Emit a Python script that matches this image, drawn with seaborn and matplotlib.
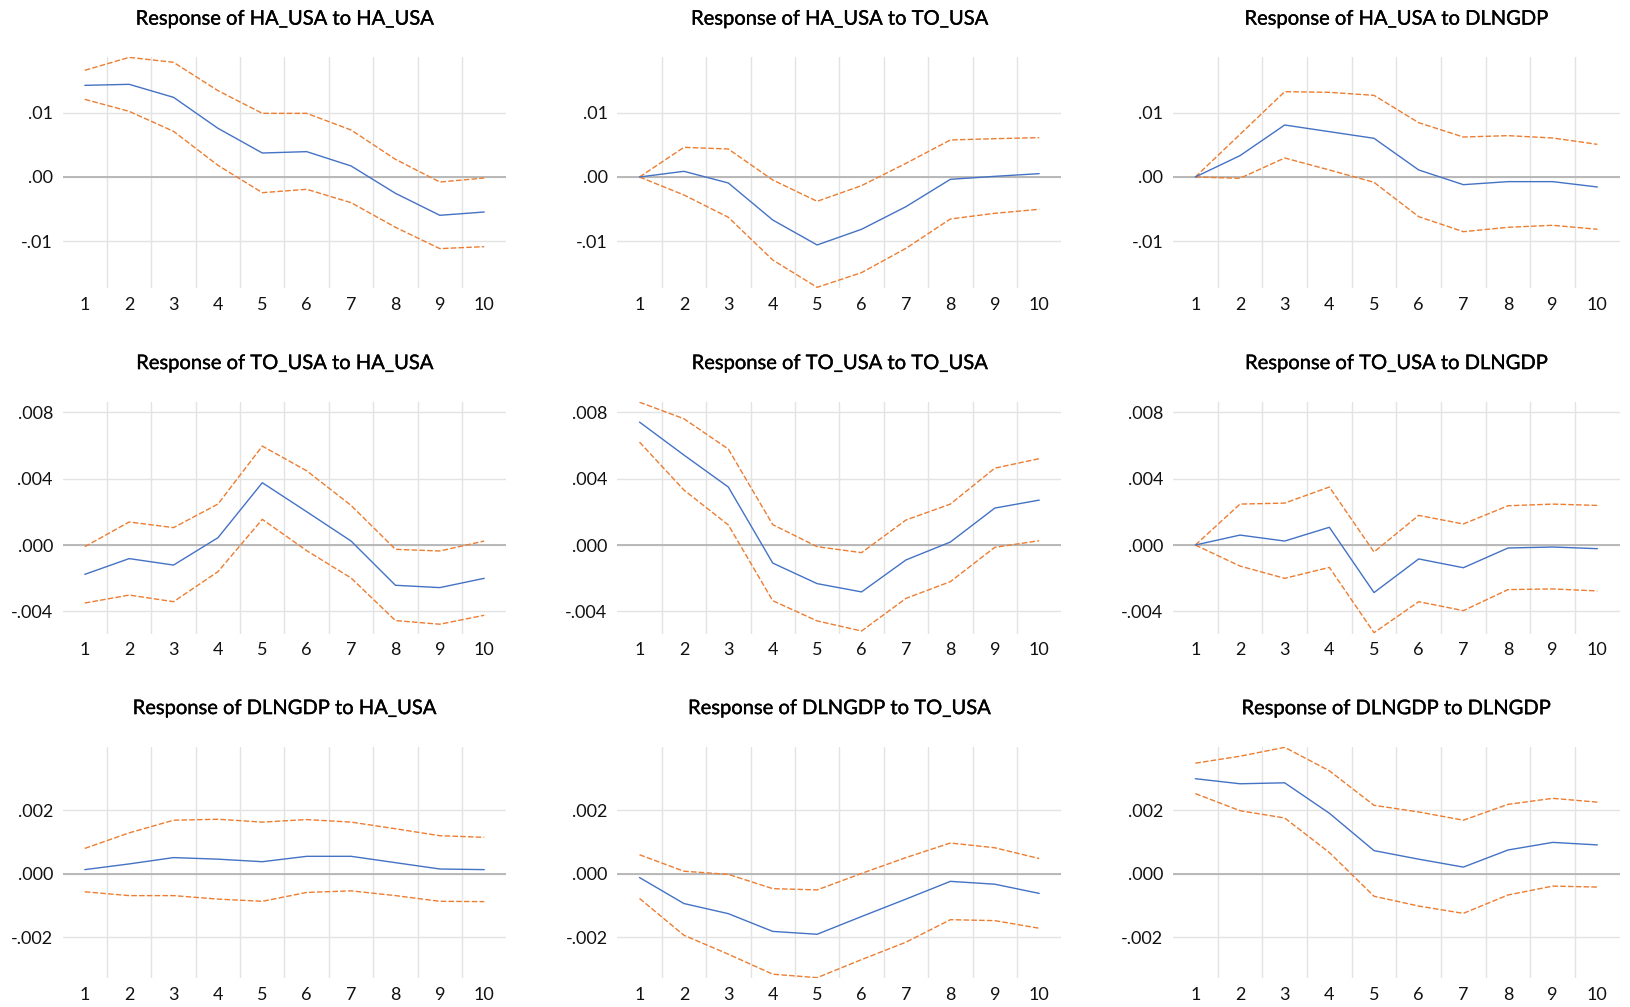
import numpy as np
import pandas as pd
import matplotlib
matplotlib.use("Agg")
import matplotlib.pyplot as plt
import matplotlib.patheffects as pe
import seaborn as sns

# ---------------- data ----------------
periods = [1, 2, 3, 4, 5, 6, 7, 8, 9, 10]

titles = [
    "Response of HA_USA to HA_USA", "Response of HA_USA to TO_USA", "Response of HA_USA to DLNGDP",
    "Response of TO_USA to HA_USA", "Response of TO_USA to TO_USA", "Response of TO_USA to DLNGDP",
    "Response of DLNGDP to HA_USA", "Response of DLNGDP to TO_USA", "Response of DLNGDP to DLNGDP",
]

# HA_USA responses
ha_ha_resp = [0.01421, 0.01437, 0.01235, 0.00755, 0.00372, 0.00393, 0.00171, -0.00253, -0.00594, -0.00543]
ha_ha_up = [0.01654, 0.01855, 0.01778, 0.01339, 0.00987, 0.00987, 0.00729, 0.00274, -0.00078, -0.00016]
ha_ha_lo = [0.01204, 0.01018, 0.00708, 0.00181, -0.00243, -0.00191, -0.00398, -0.00780, -0.01111, -0.01080]

ha_to_resp = [0.0, 0.00088, -0.00093, -0.00667, -0.01054, -0.00811, -0.00460, -0.00036, 0.00010, 0.00052]
ha_to_up = [0.0, 0.00460, 0.00434, -0.00047, -0.00377, -0.00134, 0.00212, 0.00574, 0.00594, 0.00610]
ha_to_lo = [0.0, -0.00279, -0.00625, -0.01287, -0.01711, -0.01483, -0.01106, -0.00651, -0.00563, -0.00501]

ha_gdp_resp = [0.0, 0.00331, 0.00806, 0.00703, 0.00600, 0.00109, -0.00119, -0.00072, -0.00072, -0.00155]
ha_gdp_up = [0.0, 0.00661, 0.01323, 0.01313, 0.01266, 0.00842, 0.00620, 0.00641, 0.00605, 0.00506]
ha_gdp_lo = [0.0, -0.00020, 0.00295, 0.00109, -0.00083, -0.00615, -0.00848, -0.00780, -0.00749, -0.00811]

# TO_USA responses
to_ha_resp = [-0.00177, -0.00082, -0.00121, 0.00044, 0.00376, 0.00201, 0.00024, -0.00243, -0.00257, -0.00201]
to_ha_up = [-0.00010, 0.00139, 0.00105, 0.00247, 0.00597, 0.00448, 0.00239, -0.00026, -0.00036, 0.00024]
to_ha_lo = [-0.00350, -0.00302, -0.00342, -0.00161, 0.00155, -0.00034, -0.00199, -0.00456, -0.00478, -0.00424]

to_to_resp = [0.00742, 0.00543, 0.00350, -0.00109, -0.00233, -0.00283, -0.00090, 0.00018, 0.00223, 0.00271]
to_to_up = [0.00862, 0.00762, 0.00579, 0.00123, -0.00010, -0.00046, 0.00151, 0.00247, 0.00464, 0.00521]
to_to_lo = [0.00621, 0.00332, 0.00121, -0.00336, -0.00458, -0.00519, -0.00322, -0.00221, -0.00014, 0.00026]

to_gdp_resp = [0.0, 0.00060, 0.00024, 0.00107, -0.00287, -0.00084, -0.00137, -0.00018, -0.00012, -0.00022]
to_gdp_up = [0.0, 0.00247, 0.00253, 0.00350, -0.00042, 0.00179, 0.00127, 0.00237, 0.00247, 0.00239]
to_gdp_lo = [0.0, -0.00127, -0.00201, -0.00135, -0.00529, -0.00342, -0.00396, -0.00269, -0.00265, -0.00277]

# DLNGDP responses
gdp_ha_resp = [0.00013, 0.00031, 0.00051, 0.00046, 0.00038, 0.00055, 0.00055, 0.00035, 0.00015, 0.00013]
gdp_ha_up = [0.00080, 0.00129, 0.00169, 0.00172, 0.00163, 0.00171, 0.00163, 0.00142, 0.00120, 0.00115]
gdp_ha_lo = [-0.00057, -0.00069, -0.00069, -0.00080, -0.00087, -0.00059, -0.00054, -0.00069, -0.00087, -0.00088]

gdp_to_resp = [-0.00012, -0.00094, -0.00126, -0.00182, -0.00191, -0.00135, -0.00080, -0.00024, -0.00033, -0.00062]
gdp_to_up = [0.00060, 0.00008, -0.00002, -0.00047, -0.00051, 0.00001, 0.00051, 0.00097, 0.00082, 0.00048]
gdp_to_lo = [-0.00078, -0.00194, -0.00254, -0.00317, -0.00328, -0.00271, -0.00216, -0.00145, -0.00148, -0.00172]

gdp_gdp_resp = [0.00300, 0.00284, 0.00287, 0.00191, 0.00073, 0.00046, 0.00021, 0.00075, 0.00099, 0.00091]
gdp_gdp_up = [0.00349, 0.00371, 0.00399, 0.00325, 0.00216, 0.00195, 0.00169, 0.00219, 0.00238, 0.00226]
gdp_gdp_lo = [0.00253, 0.00199, 0.00176, 0.00067, -0.00071, -0.00102, -0.00125, -0.00067, -0.00039, -0.00042]

panels = [
    (ha_ha_resp, ha_ha_up, ha_ha_lo), (ha_to_resp, ha_to_up, ha_to_lo), (ha_gdp_resp, ha_gdp_up, ha_gdp_lo),
    (to_ha_resp, to_ha_up, to_ha_lo), (to_to_resp, to_to_up, to_to_lo), (to_gdp_resp, to_gdp_up, to_gdp_lo),
    (gdp_ha_resp, gdp_ha_up, gdp_ha_lo), (gdp_to_resp, gdp_to_up, gdp_to_lo), (gdp_gdp_resp, gdp_gdp_up, gdp_gdp_lo),
]

row_ticks = [[-0.01, 0.0, 0.01], [-0.004, 0.0, 0.004, 0.008], [-0.002, 0.0, 0.002]]
row_tick_labels = [["-.01", ".00", ".01"], ["-.004", ".000", ".004", ".008"], ["-.002", ".000", ".002"]]
row_limits = [(-0.01726, 0.01856), (-0.00537, 0.00865), (-0.0033, 0.00401)]

# ---------------- style ----------------
sns.set_theme(style="white")
plt.rcParams['font.family'] = ['Lato', 'DejaVu Sans']

BLUE = "#4472C4"
ORANGE = "#ED7D31"
GRID = "#E3E3E3"
ZERO = "#B4B4B4"
TEXT = "#111111"

W, H = 1631, 1007
fig = plt.figure(figsize=(W / 100, H / 100), dpi=100)
fig.patch.set_facecolor("white")

col_px = [(62.6, 506.4), (617.3, 1061.4), (1173.0, 1619.7)]
row_px = [(57.3, 288.3), (401.7, 634.0), (746.7, 978.3)]

for i, (resp, up, lo) in enumerate(panels):
    r, c = divmod(i, 3)
    x0, x1 = col_px[c]
    y0, y1 = row_px[r]
    ax = fig.add_axes([x0 / W, 1 - y1 / H, (x1 - x0) / W, (y1 - y0) / H])

    df = pd.DataFrame({
        "period": periods * 3,
        "value": list(up) + list(lo) + list(resp),
        "band": ["Upper"] * 10 + ["Lower"] * 10 + ["Response"] * 10,
    })
    sns.lineplot(data=df, x="period", y="value", hue="band", style="band",
                 hue_order=["Upper", "Lower", "Response"],
                 style_order=["Upper", "Lower", "Response"],
                 palette={"Upper": ORANGE, "Lower": ORANGE, "Response": BLUE},
                 dashes={"Upper": (4, 1.6), "Lower": (4, 1.6), "Response": ""},
                 linewidth=1.0, legend=False, ax=ax, zorder=3)

    ax.set_xlim(0.5, 10.5)
    ax.set_ylim(*row_limits[r])
    ax.set_xticks(periods)
    ax.set_xticklabels([str(p) for p in periods])
    ax.set_xticks([p + 0.5 for p in periods[:-1]], minor=True)
    ax.set_yticks(row_ticks[r])
    ax.set_yticklabels(row_tick_labels[r])

    ax.grid(False)
    ax.xaxis.grid(True, which="minor", color=GRID, linewidth=1.0, zorder=0)
    ax.yaxis.grid(True, which="major", color=GRID, linewidth=1.0, zorder=0)
    ax.axhline(0, color=ZERO, linewidth=1.3, zorder=1)
    ax.set_axisbelow(True)

    for s in ax.spines.values():
        s.set_visible(False)
    ax.tick_params(axis="both", which="both", length=0)
    ax.tick_params(axis="x", pad=6, labelsize=13, labelcolor=TEXT)
    ax.tick_params(axis="y", pad=7, labelsize=13, labelcolor=TEXT)
    ax.set_xlabel("")
    ax.set_ylabel("")

    ax.annotate(titles[i], xy=(0.5, 1.0), xycoords="axes fraction",
                xytext=(0, 38 * 0.72), textcoords="offset points",
                ha="center", va="center", fontsize=14.5, color="black",
                path_effects=[pe.withStroke(linewidth=0.25, foreground="black")])

fig.savefig("out.png", dpi=100, facecolor="white")
